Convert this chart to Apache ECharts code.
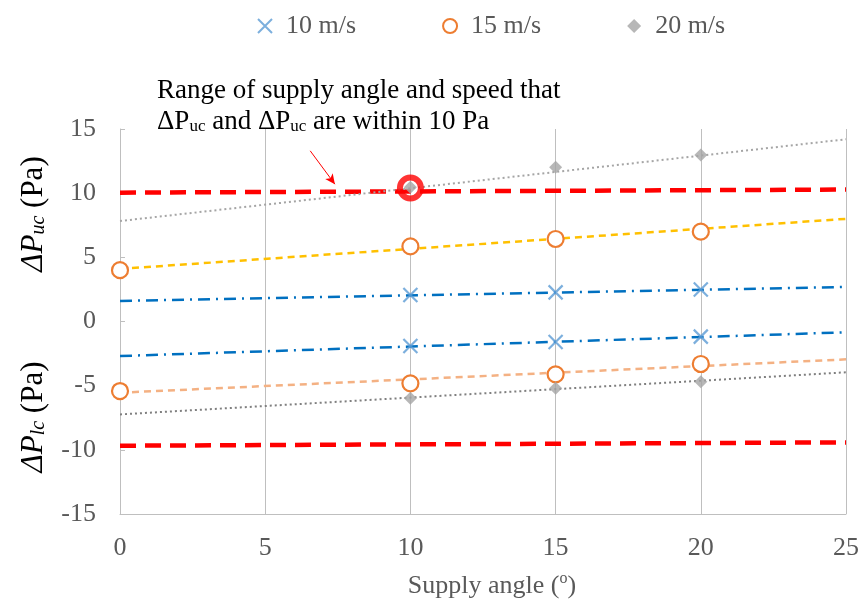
<!DOCTYPE html>
<html><head><meta charset="utf-8">
<script src="https://cdn.jsdelivr.net/npm/echarts@6/dist/echarts.min.js"></script>
<style>html,body{margin:0;padding:0;background:#fff}#c{width:862px;height:602px}</style>
</head><body><div id="c"></div>
<script>
// ---- data ----
const angles = [0, 10, 15, 20];
const uc10 = [null, 2.07, 2.27, 2.5];
const lc10 = [null, -1.91, -1.6, -1.18];
const uc15 = [4.0, 5.85, 6.43, 7.0];
const lc15 = [-5.42, -4.82, -4.12, -3.31];
const uc20 = [null, 10.46, 12.02, 12.98];
const lc20 = [null, -5.99, -5.21, -4.69];
const trendX = [0, 25];
const trendUc10 = [1.6, 2.69];
const trendLc10 = [-2.69, -0.84];
const trendUc15 = [4.1, 8.0];
const trendLc15 = [-5.55, -2.95];
const trendUc20 = [7.83, 14.2];
const trendLc20 = [-7.24, -3.96];
const limitUp = [10.04, 10.28];
const limitLow = [-9.68, -9.42];
const highlight = [10, 10.4];
const arrowFrom = [6.55, 13.3];
const arrowTo = [7.4, 10.7];
const xTicks = [0, 5, 10, 15, 20, 25];
const yTicks = [-15, -10, -5, 0, 5, 10, 15];

const FONT = 'Liberation Serif';
const TXT = '#595959';
const pts = (xs, ys) => xs.map((x, i) => [x, ys[i]]).filter(p => p[1] !== null && p[1] !== undefined);
const XPATH = 'path://M0,0L10,10M10,0L0,10';

function trend(name, ys, color, type, width) {
  return { name, type: 'line', data: pts(trendX, ys), showSymbol: false, symbol: 'none',
    lineStyle: { color, type, width }, z: 2, silent: true };
}
function scat(name, ys, symbol, size, style) {
  return { name, type: 'scatter', data: pts(angles, ys), symbol, symbolSize: size, itemStyle: style, z: 5 };
}
const s10 = { color: '#5B9BD5', borderColor: '#5B9BD5', borderWidth: 2.2 };
const s15 = { color: '#fff', borderColor: '#ED7D31', borderWidth: 2.2, opacity: 1 };
const s20 = { color: '#A5A5A5' };

const yName = (sub, y) => ({ type: 'text', x: 32, y, rotation: Math.PI / 2, style: {
  text: '{i|ΔP}{s|' + sub + '}{n| (Pa)}', align: 'center', verticalAlign: 'middle',
  rich: {
    i: { fontFamily: FONT, fontStyle: 'italic', fontSize: 31, fill: '#000', lineHeight: 34, verticalAlign: 'bottom' },
    s: { fontFamily: FONT, fontStyle: 'italic', fontSize: 20, fill: '#000', lineHeight: 18, verticalAlign: 'bottom' },
    n: { fontFamily: FONT, fontSize: 31, fill: '#000', lineHeight: 34, verticalAlign: 'bottom' }
  } } });

const chart = echarts.init(document.getElementById('c'));
chart.setOption({
  animation: false,
  backgroundColor: '#fff',
  grid: { left: 120, right: 16, top: 129, bottom: 88, containLabel: false, outerBoundsMode: 'none' },
  legend: {
    left: 252, top: 8, itemGap: 86, itemWidth: 14, itemHeight: 14,
    textStyle: { fontFamily: FONT, fontSize: 26, color: TXT, padding: [0, 0, 0, 9] },
    data: [
      { name: '10 m/s', icon: XPATH },
      { name: '15 m/s', icon: 'circle' },
      { name: '20 m/s', icon: 'diamond' }
    ]
  },
  xAxis: {
    type: 'value', min: 0, max: 25, interval: 5,
    axisLine: { show: true, onZero: false, lineStyle: { color: '#BFBFBF', width: 1 } },
    axisTick: { show: false },
    splitLine: { show: true, lineStyle: { color: '#BFBFBF', width: 1 } },
    axisLabel: { fontFamily: FONT, fontSize: 26, color: TXT, margin: 21,
      formatter: v => xTicks.includes(v) ? String(v) : '' },
    name: '{a|Supply angle (}{s|o}{a|)}', nameLocation: 'middle', nameGap: 57,
    nameTextStyle: { padding: [0, 0, 0, 18], rich: {
      a: { fontFamily: FONT, fontSize: 26, color: TXT, lineHeight: 28, verticalAlign: 'bottom' },
      s: { fontFamily: FONT, fontSize: 16, color: TXT, lineHeight: 16, verticalAlign: 'top' } } }
  },
  yAxis: {
    type: 'value', min: -15, max: 15, interval: 5,
    axisLine: { show: true, onZero: false, lineStyle: { color: '#BFBFBF', width: 1 } },
    axisTick: { show: true, inside: true, length: 5, lineStyle: { color: '#BFBFBF' } },
    splitLine: { show: false },
    axisLabel: { fontFamily: FONT, fontSize: 26, color: TXT, margin: 24,
      formatter: v => yTicks.includes(v) ? String(v) : '' }
  },
  graphic: [
    { type: 'text', left: 157, top: 77, style: {
      text: '{n|Range of supply angle and speed that}\n{n|ΔP}{s|uc}{n| and ΔP}{s|uc}{n| are within 10 Pa}',
      rich: {
        n: { fontFamily: FONT, fontSize: 27, fill: '#000', lineHeight: 31, verticalAlign: 'bottom' },
        s: { fontFamily: FONT, fontSize: 17, fill: '#000', lineHeight: 18, verticalAlign: 'bottom' }
      } } },
    yName('uc', 214),
    yName('lc', 417)
  ],
  series: [
    trend('lim-up', limitUp, '#FF0000', [16, 9], 4.5),
    trend('lim-low', limitLow, '#FF0000', [16, 9], 4.5),
    trend('t-uc20', trendUc20, '#A5A5A5', [2, 3], 2),
    trend('t-lc20', trendLc20, '#7F7F7F', [2, 3], 2),
    trend('t-uc15', trendUc15, '#FFC000', [7, 5], 2.5),
    trend('t-lc15', trendLc15, '#F4B183', [7, 5], 2.5),
    trend('t-uc10', trendUc10, '#0070C0', [12, 6, 2, 6], 2.5),
    trend('t-lc10', trendLc10, '#0070C0', [12, 6, 2, 6], 2.5),
    scat('10 m/s', uc10, XPATH, 14, s10),
    scat('10 m/s', lc10, XPATH, 14, s10),
    scat('15 m/s', uc15, 'circle', 16, s15),
    scat('15 m/s', lc15, 'circle', 16, s15),
    scat('20 m/s', uc20, 'diamond', 13, s20),
    scat('20 m/s', lc20, 'diamond', 13, s20),
    { name: 'highlight', type: 'scatter', data: [highlight], symbol: 'circle', symbolSize: 21, z: 6,
      itemStyle: { color: 'rgba(0,0,0,0)', borderColor: '#FF0000', borderWidth: 6 } },
    { name: 'arrow', type: 'line', data: [], z: 6,
      markLine: { silent: true, symbol: ['none', 'arrow'], symbolSize: [7, 10], label: { show: false },
        lineStyle: { color: '#FF0000', width: 1, type: 'solid' },
        data: [[{ coord: arrowFrom }, { coord: arrowTo }]] } }
  ]
});
</script></body></html>
